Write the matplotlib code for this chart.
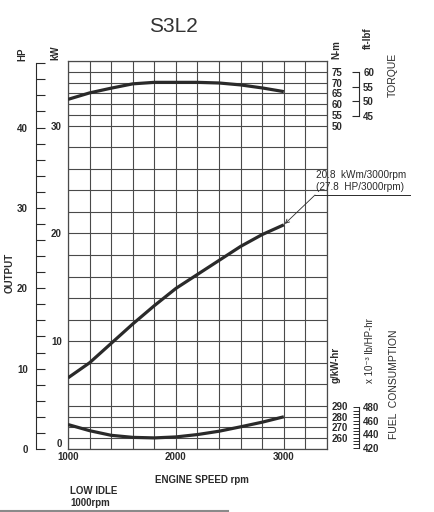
import numpy as np
import matplotlib
matplotlib.use("Agg")
import matplotlib.pyplot as plt
from matplotlib.lines import Line2D

plt.rcParams["font.family"] = ["Liberation Sans", "DejaVu Sans"]

W, H = 435, 512

# engine speed (rpm) and the three curves
rpm = [1000, 1200, 1400, 1600, 1800, 2000, 2200, 2400, 2600, 2800, 3000]
power_kw = [6.6, 8.0, 9.8, 11.6, 13.3, 14.9, 16.2, 17.5, 18.8, 19.9, 20.8]
torque_nm = [62.2, 65.2, 67.4, 69.4, 70.1, 70.1, 70.1, 69.8, 68.9, 67.5, 65.8]
fuel_gkwh = [272.7, 267.0, 262.7, 260.8, 260.3, 261.2, 263.4, 266.5, 270.6, 274.9, 279.9]

rpm_ticks = [1000, 2000, 3000]
kw_ticks = [0, 10, 20, 30]
hp_ticks = list(range(0, 49, 2))
nm_ticks = [50, 55, 60, 65, 70, 75]
ftlbf_ticks = [45, 50, 55, 60]
gkwh_ticks = [260, 270, 280, 290]
lbhp_ticks = [420, 440, 460, 480]

INK = "#2a2a2a"
GRID = "#4a4a4a"
BOLD = dict(fontweight="bold", fontsize=7, color=INK)


def px(x, y):
    return x / W, 1 - y / H


fig = plt.figure(figsize=(W / 100, H / 100), dpi=100)
ax = fig.add_axes([68 / W, 1 - 449 / H, (327 - 68) / W, (449 - 61) / H])

ax.set_xlim(1000, 3400)
ax.set_ylim(0, 36)

# grid: 200 rpm columns, 2 kW rows, 1 kW rows in the torque and fuel bands
ax.set_xticks(rpm_ticks)
ax.set_xticks(np.arange(1000, 3401, 200), minor=True)
ax.set_yticks(kw_ticks)
rows = sorted(set(np.arange(0, 37, 2)) | set(range(30, 37)) | set(range(0, 5)))
ax.set_yticks(rows, minor=True)
ax.grid(True, which="both", color=GRID, lw=0.8)
ax.tick_params(which="both", length=0)
ax.tick_params(axis="x", pad=2.5, labelsize=7)
ax.tick_params(axis="y", pad=4.5, labelsize=7)
for lab in ax.get_xticklabels() + ax.get_yticklabels():
    lab.set_fontweight("bold")
    lab.set_color(INK)
# the kW zero sits just above the 1000 rpm label, as on the sheet
ax.get_yticklabels()[0].set_verticalalignment("bottom")
for s in ax.spines.values():
    s.set_color(GRID)
    s.set_linewidth(0.9)

# output curve
ax.plot(rpm, power_kw, color=INK, lw=2.3, solid_capstyle="butt", zorder=5)

# torque on its own scale: 50 N-m at the 30 kW row, 5 N-m per row
ax_t = ax.twinx()
ax_t.set_ylim(50 - 30 * 5, 50 + 6 * 5)
ax_t.plot(rpm, torque_nm, color=INK, lw=2.3, solid_capstyle="butt", zorder=5)
ax_t.set_yticks(nm_ticks)
ax_t.tick_params(axis="y", length=0, pad=3.5, labelsize=7)
for lab in ax_t.get_yticklabels():
    lab.set_fontweight("bold")
    lab.set_color(INK)
for s in ax_t.spines.values():
    s.set_visible(False)

# fuel consumption: 250 g/kW-hr at zero, 10 g per row
ax_f = ax.twinx()
ax_f.set_ylim(250, 250 + 36 * 10)
ax_f.plot(rpm, fuel_gkwh, color=INK, lw=2.3, solid_capstyle="butt", zorder=5)
ax_f.set_yticks(gkwh_ticks)
ax_f.tick_params(axis="y", length=0, pad=3.5, labelsize=7)
for lab in ax_f.get_yticklabels():
    lab.set_fontweight("bold")
    lab.set_color(INK)
for s in ax_f.spines.values():
    s.set_visible(False)

# bracket scales
loc_r = (359 - 68) / (327 - 68)
ft = ax_t.secondary_yaxis(loc_r, functions=(lambda n: 60 + (n - 75) / 1.37,
                                             lambda f: 75 + (f - 60) * 1.37))
ft.set_yticks(ftlbf_ticks)
ft.spines["right"].set_bounds(45, 60)
ft.tick_params(direction="in", length=5, width=0.8, pad=3, labelsize=7, colors=INK)
ft.spines["right"].set_color(INK)
ft.spines["right"].set_linewidth(0.8)
for lab in ft.get_yticklabels():
    lab.set_fontweight("bold")

lb = ax_f.secondary_yaxis(loc_r, functions=(lambda g: 420 + (g - 251.2) * 1.604,
                                             lambda v: 251.2 + (v - 420) / 1.604))
lb.set_yticks(lbhp_ticks)
lb.set_yticks(np.arange(420, 481, 5), minor=True)
lb.spines["right"].set_bounds(420, 480)
lb.tick_params(which="both", direction="in", length=4.5, width=0.7, pad=3,
               labelsize=7, colors=INK)
lb.spines["right"].set_color(INK)
lb.spines["right"].set_linewidth(0.8)
for lab in lb.get_yticklabels():
    lab.set_fontweight("bold")

# HP scale on the far left
hp = ax.secondary_yaxis(-(68 - 36) / (327 - 68),
                        functions=(lambda k: k / 0.7457, lambda h: h * 0.7457))
hp.set_yticks(hp_ticks)
hp.set_yticklabels([str(h) if h % 10 == 0 else "" for h in hp_ticks])
hp.spines["left"].set_bounds(0, 48)
hp.spines["left"].set_color(INK)
hp.spines["left"].set_linewidth(0.8)
hp.tick_params(direction="in", length=6.5, width=0.8, pad=6, labelsize=7, colors=INK)
for lab in hp.get_yticklabels():
    lab.set_fontweight("bold")

# rated output note
ax.annotate("", xy=(rpm[-1], power_kw[-1]), xycoords="data",
            xytext=px(315, 195), textcoords="figure fraction",
            arrowprops=dict(arrowstyle="->", lw=0.6, color=INK,
                            shrinkA=0, shrinkB=1, mutation_scale=7))
fig.add_artist(Line2D([315 / W, 410 / W], [1 - 195 / H] * 2, color=INK, lw=0.7))
fig.text(*px(316, 175), "20.8  kWm/3000rpm", ha="left", va="center",
         fontsize=7.2, color=INK)
fig.text(*px(316, 187), "(27.8  HP/3000rpm)", ha="left", va="center",
         fontsize=7.2, color=INK)

# labels
fig.text(*px(173, 26), "S3L2", ha="center", va="center", fontsize=15, color="#333333")
fig.text(*px(22, 54), "HP", rotation=90, ha="center", va="center", **BOLD)
fig.text(*px(55, 53), "kW", rotation=90, ha="center", va="center", **BOLD)
fig.text(*px(336, 50), "N-m", rotation=90, ha="center", va="center", **BOLD)
fig.text(*px(368, 38), "ft-lbf", rotation=90, ha="center", va="center", **BOLD)
fig.text(*px(393, 75), "TORQUE", rotation=90, ha="center", va="center",
         fontsize=7.5, color=INK)
fig.text(*px(10, 273), "OUTPUT", rotation=90, ha="center", va="center", **BOLD)
fig.text(*px(336, 365), "g/kW-hr", rotation=90, ha="center", va="center", **BOLD)
fig.text(*px(370, 351), "x 10\u207b\u00b3 lb/HP-hr", rotation=90, ha="center",
         va="center", fontsize=7, color=INK)
fig.text(*px(394, 384), "FUEL  CONSUMPTION", rotation=90, ha="center", va="center",
         fontsize=7.5, color=INK)
fig.text(*px(202, 480), "ENGINE SPEED rpm", ha="center", va="center", **BOLD)
fig.text(*px(70, 491), "LOW IDLE", ha="left", va="center", **BOLD)
fig.text(*px(70, 503), "1000rpm", ha="left", va="center", **BOLD)

fig.add_artist(Line2D([0, 228 / W], [1 - 510.5 / H] * 2, color="#8a8a8a", lw=1.5))

fig.savefig("out.png", dpi=100)
